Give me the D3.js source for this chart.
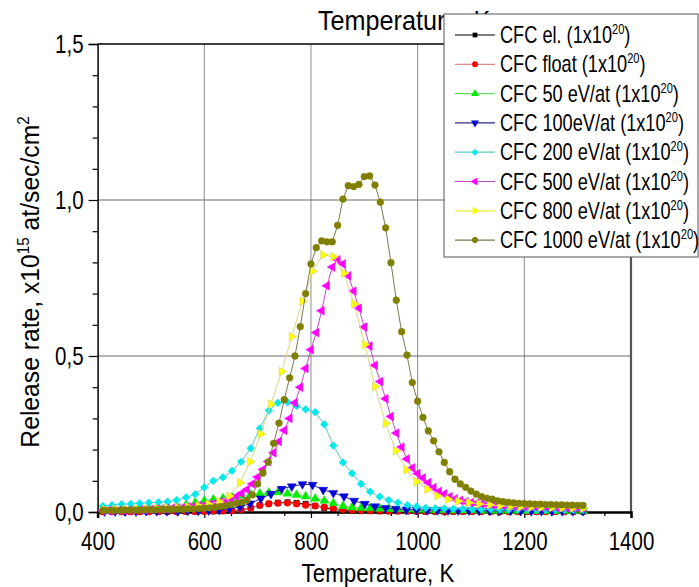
<!DOCTYPE html>
<html>
<head>
<meta charset="utf-8">
<script src="https://cdn.jsdelivr.net/npm/d3@7"></script>
<style>
  body { margin: 0; background: #fff; }
  svg text { font-family: 'Liberation Sans', Arial, sans-serif; fill: #000; }
</style>
</head>
<body>
<svg id="chart" width="699" height="587"></svg>
<script>
// temperature grids (K) — the series were sampled with different steps
const tFine = [410,420,430,440,450,460,470,480,490,500,510,520,530,540,550,560,570,580,590,
  600,610,620,630,640,650,660,670,680,690,700,710,720,730,740,750,760,770,780,790,
  800,810,820,830,840,850,860,870,880,890,900,910,920,930,940,950,960,970,980,990,
  1000,1010,1020,1030,1040,1050,1060,1070,1080,1090,1100,1110,1120,1130,1140,1150,1160,1170,1180,1190,
  1200,1210,1220,1230,1240,1250,1260,1270,1280,1290,1300,1310]
const tMid = [410,427,445,462,479,496,514,531,548,566,583,600,617,635,652,669,687,704,721,738,
  756,773,790,808,825,842,860,877,894,911,929,946,963,981,998,1015,1033,1050,1067,1085,
  1102,1119,1137,1154,1171,1188,1206,1223,1240,1258,1275,1292,1310]
const tCoarse = [413,433,452,472,491,511,530,550,569,589,608,628,647,667,686,706,725,745,764,784,
  803,823,842,862,881,901,920,940,959,979,998,1018,1037,1057,1076,1096,1115,1135,1154,1174,
  1193,1213,1232,1252,1271,1291,1310]

// release rate, x10^15 at/sec/cm^2
const cfcEl = [0.001,0.001,0.001,0.001,0.001,0.001,0.001,0.001,0.001,0.001,0.001,0.002,0.002,0.003,0.004,
  0.006,0.013,0.021,0.027,0.030,0.031,0.029,0.026,0.020,0.013,0.008,0.005,0.004,0.003,0.003,0.002,0.002,0.002,0.002,0.002,
  0.001,0.001,0.001,0.001,0.001,0.001,0.001,0.001,0.001,0.001,0.001,0.001,0.001,0.001,0.001,0.001,0.001,0.001]
const cfcFloat = [0.001,0.001,0.001,0.001,0.001,0.001,0.001,0.001,0.001,0.002,0.002,0.002,0.003,0.003,0.004,
  0.007,0.013,0.022,0.026,0.028,0.029,0.026,0.022,0.019,0.016,0.012,0.008,0.006,0.005,0.004,0.004,0.003,0.003,0.003,0.002,
  0.002,0.002,0.002,0.002,0.002,0.002,0.001,0.001,0.001,0.001,0.001,0.001,0.001,0.001,0.001,0.001,0.001,0.001]
const cfc50 = [0.008,0.009,0.010,0.011,0.012,0.013,0.015,0.017,0.020,0.024,0.030,0.036,0.040,0.044,0.048,
  0.052,0.056,0.059,0.062,0.063,0.059,0.055,0.050,0.043,0.036,0.028,0.019,0.015,0.013,0.012,0.011,0.010,0.009,0.008,0.007,
  0.007,0.006,0.006,0.005,0.005,0.005,0.004,0.004,0.004,0.004,0.003,0.003,0.003,0.003,0.003,0.003,0.003,0.003]
const cfc100 = [0.002,0.002,0.002,0.002,0.003,0.003,0.003,0.003,0.004,0.004,
  0.005,0.007,0.010,0.016,0.027,0.043,0.058,0.074,0.082,0.089,0.087,0.071,0.061,0.050,0.036,0.026,0.018,0.013,0.010,0.008,0.007,
  0.006,0.006,0.005,0.005,0.005,0.004,0.004,0.004,0.004,0.003,0.003,0.003,0.003,0.003,0.003,0.003]
const cfc200 = [0.019,0.022,0.025,0.026,0.028,0.030,0.031,0.033,0.038,0.047,0.057,0.079,0.100,0.111,0.132,
  0.161,0.204,0.268,0.325,0.350,0.352,0.340,0.329,0.320,0.281,0.213,0.159,0.124,0.090,0.065,0.049,0.038,0.030,0.022,0.017,
  0.013,0.012,0.011,0.010,0.010,0.009,0.009,0.009,0.008,0.008,0.008,0.008,0.007,0.007,0.007,0.007,0.007,0.007]
const cfc500 = [0.004,0.004,0.005,0.005,0.005,0.006,0.006,0.007,0.007,0.008,0.009,0.010,0.011,0.012,0.013,0.014,0.016,0.018,0.020,
  0.022,0.025,0.028,0.032,0.036,0.042,0.050,0.060,0.072,0.090,0.112,0.136,0.162,0.190,0.226,0.262,0.300,0.350,0.400,0.460,
  0.520,0.575,0.645,0.725,0.785,0.808,0.795,0.757,0.708,0.653,0.593,0.532,0.470,0.418,0.363,0.306,0.253,0.208,0.170,0.141,
  0.123,0.109,0.094,0.078,0.066,0.058,0.049,0.042,0.037,0.033,0.030,0.028,0.026,0.024,0.023,0.022,0.021,0.020,0.019,0.018,
  0.018,0.017,0.017,0.016,0.016,0.015,0.015,0.015,0.014,0.014,0.014,0.013]
const cfc800 = [0.008,0.009,0.009,0.010,0.011,0.012,0.013,0.015,0.017,0.020,
  0.025,0.033,0.051,0.094,0.161,0.250,0.346,0.450,0.562,0.676,0.772,0.824,0.818,0.765,0.667,0.537,0.402,0.284,0.196,0.135,0.097,
  0.073,0.052,0.041,0.035,0.030,0.026,0.023,0.020,0.018,0.017,0.016,0.015,0.014,0.013,0.013,0.012]
const cfc1000 = [0.005,0.005,0.005,0.005,0.006,0.006,0.006,0.006,0.007,0.007,0.007,0.008,0.008,0.008,0.009,0.009,0.010,0.010,0.011,
  0.012,0.013,0.015,0.017,0.020,0.024,0.028,0.031,0.038,0.055,0.090,0.125,0.160,0.220,0.285,0.360,0.430,0.500,0.594,0.700,
  0.795,0.847,0.869,0.866,0.866,0.919,1.003,1.046,1.043,1.050,1.075,1.077,1.048,0.993,0.911,0.799,0.679,0.578,0.503,0.415,
  0.355,0.303,0.260,0.228,0.193,0.159,0.129,0.105,0.090,0.079,0.067,0.057,0.049,0.044,0.041,0.036,0.033,0.031,0.029,0.028,
  0.027,0.026,0.025,0.025,0.024,0.024,0.023,0.023,0.022,0.022,0.021,0.021]

const names = ['CFC el.', 'CFC float', 'CFC 50 eV/at', 'CFC 100eV/at', 'CFC 200 eV/at',
  'CFC 500 eV/at', 'CFC 800 eV/at', 'CFC 1000 eV/at']
const temps = [tMid, tMid, tMid, tCoarse, tMid, tFine, tCoarse, tFine]
const values = [cfcEl, cfcFloat, cfc50, cfc100, cfc200, cfc500, cfc800, cfc1000]
const fills = ['#000000', '#ff0000', '#00ee00', '#0000d8', '#00eaea', '#ff00ff', '#ffff00', '#808000']
const lineColors = ['#000000', '#e08888', '#66dd66', '#2a2a90', '#5cc8c8', '#c050c0', '#d8d880', '#7a7a50']
const xTicks = [400, 600, 800, 1000, 1200, 1400]
const yTicks = [0, 0.5, 1.0, 1.5]

// marker shapes: [symbol type, rotation, area]
const shapes = [
  [d3.symbolSquare, 0, 28], [d3.symbolCircle, 0, 34], [d3.symbolTriangle, 0, 34],
  [d3.symbolTriangle, 180, 34], [d3.symbolSquare, 45, 30], [d3.symbolTriangle, -90, 34],
  [d3.symbolTriangle, 90, 34], [d3.symbolCircle, 0, 36]
]

let svg = d3.select('#chart')
let x = d3.scaleLinear().domain([400, 1400]).range([97.6, 631])
let y = d3.scaleLinear().domain([0, 1.5]).range([512, 44])
let fmt = (d) => d3.format('.1f')(d).replace('.', ',')

// squeeze a text in place, keeping its anchor point (narrow font look)
function narrow(sel, sq) {
    sel.each(function() {
        let t = d3.select(this)
        let tx = +t.attr('x') || 0, ty = +t.attr('y') || 0
        t.attr('x', 0).attr('y', 0)
            .attr('transform', `translate(${tx},${ty}) scale(${sq || 0.8},1)`)
    })
}

// grid
svg.append('g').selectAll('line').data([600, 800, 1000, 1200]).join('line')
    .attr('x1', d => x(d)).attr('x2', d => x(d))
    .attr('y1', y(1.5)).attr('y2', y(0))
    .attr('stroke', '#8a8a8a').attr('stroke-width', 1)
svg.append('g').selectAll('line').data([0.5, 1.0]).join('line')
    .attr('x1', x(400)).attr('x2', x(1400))
    .attr('y1', d => y(d)).attr('y2', d => y(d))
    .attr('stroke', '#6a6a6a').attr('stroke-width', 1)

// frame: top and right
svg.append('line').attr('x1', x(400)).attr('x2', x(1400)).attr('y1', y(1.5)).attr('y2', y(1.5))
    .attr('stroke', '#000').attr('stroke-width', 1.5)
svg.append('line').attr('x1', x(1400)).attr('x2', x(1400)).attr('y1', y(1.5)).attr('y2', y(0))
    .attr('stroke', '#555').attr('stroke-width', 2.2)

// axes
let xMinor = svg.append('g').attr('transform', `translate(0,${y(0)})`)
    .call(d3.axisBottom(x).tickValues(d3.range(450, 1400, 100)).tickSize(4).tickFormat(''))
xMinor.select('.domain').remove()
let xAxis = svg.append('g').attr('transform', `translate(0,${y(0)})`)
    .call(d3.axisBottom(x).tickValues(xTicks).tickSize(6).tickPadding(12).tickFormat(d3.format('d')))
xAxis.select('.domain').attr('stroke-width', 2.5)
xAxis.selectAll('text').attr('font-size', 25).attr('dy', null).attr('y', 38)
    .call(narrow, 0.82)

let yMinor = svg.append('g').attr('transform', `translate(${x(400)},0)`)
    .call(d3.axisLeft(y).tickValues([0.1, 0.2, 0.3, 0.4, 0.6, 0.7, 0.8, 0.9, 1.1, 1.2, 1.3, 1.4]).tickSize(5).tickFormat(''))
yMinor.select('.domain').remove()
let yAxis = svg.append('g').attr('transform', `translate(${x(400)},0)`)
    .call(d3.axisLeft(y).tickValues(yTicks).tickSize(9).tickPadding(5).tickFormat(fmt))
yAxis.select('.domain').attr('stroke-width', 1.5)
yAxis.selectAll('text').attr('font-size', 25).attr('dy', null).attr('y', 8)
    .call(narrow, 0.82)
svg.selectAll('.tick line').attr('stroke-width', 1.2)

// series
let plot = svg.append('g')
values.forEach((vals, k) => {
    let pts = vals.map((v, i) => [temps[k][i], v])
    plot.append('path').datum(pts)
        .attr('fill', 'none')
        .attr('stroke', lineColors[k])
        .attr('stroke-width', 1)
        .attr('d', d3.line().x(d => x(d[0])).y(d => y(d[1])))
    let sym = d3.symbol().type(shapes[k][0]).size(shapes[k][2])
    plot.append('g').selectAll('path').data(pts).join('path')
        .attr('d', sym)
        .attr('transform', d => `translate(${x(d[0])},${y(d[1])}) rotate(${shapes[k][1]})`)
        .attr('fill', fills[k])
        .attr('stroke', k === 6 ? '#c8c870' : fills[k])
        .attr('stroke-width', 0.5)
})

// axis titles
svg.append('text').attr('x', 318).attr('y', 30).attr('font-size', 28).text('Temperature, K').call(narrow, 0.9)
svg.append('text').attr('x', 378).attr('y', 582).attr('text-anchor', 'middle')
    .attr('font-size', 26).text('Temperature, K').call(narrow, 0.86)
let yl = svg.append('text').attr('transform', 'translate(39,282) rotate(-90) scale(0.95,1)')
    .attr('text-anchor', 'middle').attr('font-size', 26)
yl.append('tspan').text('Release rate, x10')
yl.append('tspan').attr('dy', -10).attr('font-size', 16).text('15')
yl.append('tspan').attr('dy', 10).text(' at/sec/cm')
yl.append('tspan').attr('dy', -10).attr('font-size', 16).text('2')

// legend
let leg = svg.append('g')
leg.append('rect').attr('x', 444).attr('y', 14).attr('width', 254).attr('height', 243)
    .attr('fill', '#fff').attr('stroke', '#555').attr('stroke-width', 1)
names.forEach((name, k) => {
    let cy = 35 + k * 29.3
    leg.append('line').attr('x1', 455).attr('x2', 495).attr('y1', cy).attr('y2', cy)
        .attr('stroke', lineColors[k] === '#d8d880' ? '#eeee40' : lineColors[k]).attr('stroke-width', 1.2)
    leg.append('path')
        .attr('d', d3.symbol().type(shapes[k][0]).size(shapes[k][2] * 0.8))
        .attr('transform', `translate(475,${cy}) rotate(${shapes[k][1]})`)
        .attr('fill', fills[k])
    let t = leg.append('text').attr('x', 500).attr('y', cy + 8).attr('font-size', 23)
    t.append('tspan').text(name + ' (1x10')
    t.append('tspan').attr('dy', -9).attr('font-size', 14).text('20')
    t.append('tspan').attr('dy', 9).text(')')
    t.call(narrow, 0.79)
})
</script>
</body>
</html>
